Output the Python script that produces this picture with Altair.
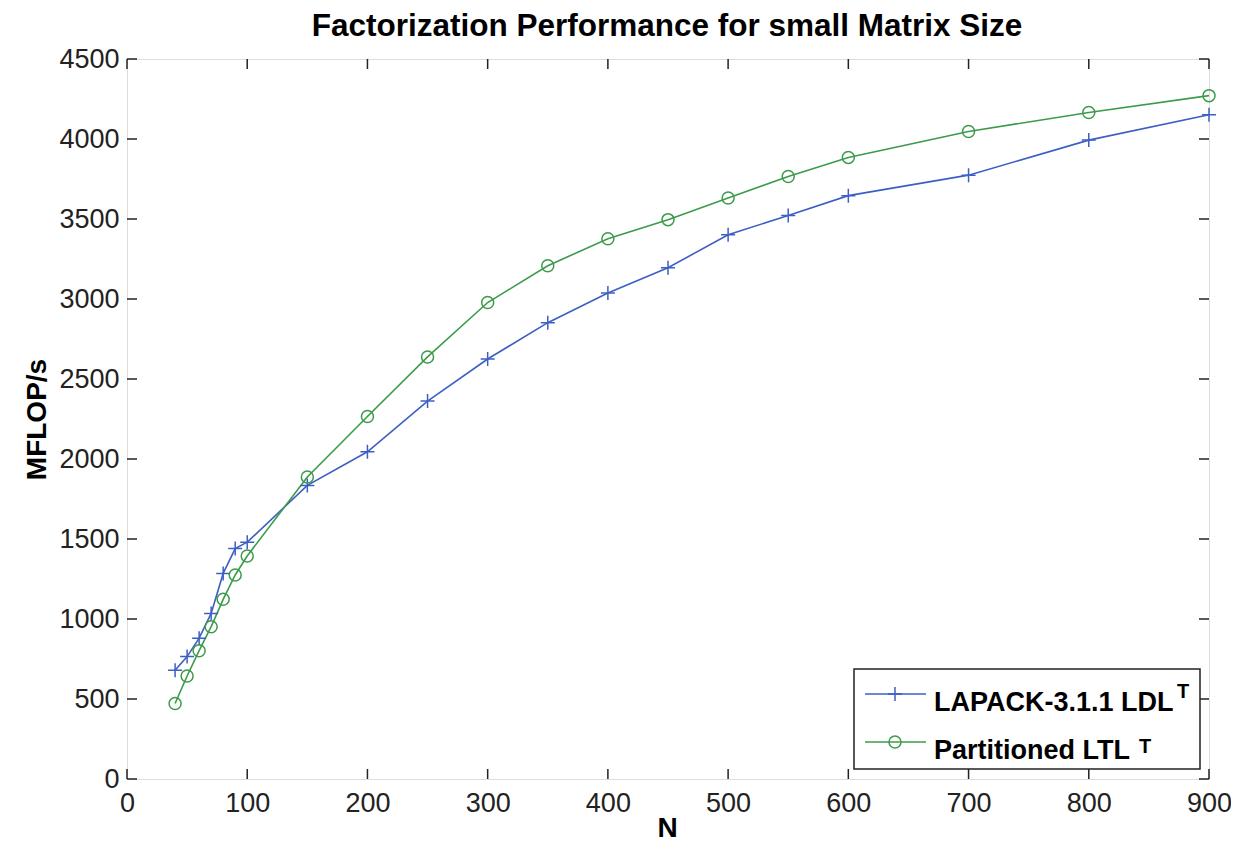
import altair as alt
import pandas as pd

# ---- data ----
N = [40, 50, 60, 70, 80, 90, 100, 150, 200, 250, 300, 350, 400, 450, 500, 550, 600, 700, 800, 900]
lapack = [680, 765, 880, 1035, 1285, 1440, 1480, 1835, 2045, 2362, 2625, 2852, 3038, 3195, 3402, 3522, 3646, 3774, 3993, 4152]
partitioned = [472, 644, 802, 952, 1123, 1275, 1394, 1888, 2266, 2638, 2978, 3208, 3377, 3496, 3631, 3766, 3885, 4047, 4166, 4271]

series_names = ["LAPACK-3.1.1 LDL", "Partitioned LTL"]
series_colors = ["#3d5fc4", "#3c9b4a"]
x_ticks = [0, 100, 200, 300, 400, 500, 600, 700, 800, 900]
y_ticks = [0, 500, 1000, 1500, 2000, 2500, 3000, 3500, 4000, 4500]
title_text = "Factorization Performance for small Matrix Size"

CROSS = "M-1,0H1M0,-1V1"
shapes = [CROSS, "circle"]
sizes = [196, 144]

W, H = 1082, 720
FONT = "Liberation Sans"
AX = "#222222"

df = pd.DataFrame({
    "N": N * 2,
    "MFLOPs": lapack + partitioned,
    "series": [series_names[0]] * len(N) + [series_names[1]] * len(N),
})

xscale = alt.Scale(domain=[0, 900], nice=False, zero=False)
yscale = alt.Scale(domain=[0, 4500], nice=False, zero=False)
cscale = alt.Scale(domain=series_names, range=series_colors)

xaxis = alt.Axis(values=x_ticks, format="d", grid=False, ticks=False, tickSize=0, domain=False,
                 labelFontSize=27, labelFont=FONT, labelColor=AX, labelPadding=32,
                 labelBaseline="alphabetic", labelFlush=False,
                 title="N", titleFont=FONT, titleFontSize=28, titleFontWeight="bold",
                 titleColor="#000", titleX=540, titleY=57, titleBaseline="alphabetic",
                 titleAlign="center")
yaxis = alt.Axis(values=y_ticks, format="d", grid=False, ticks=False, tickSize=0, domain=False,
                 labelFontSize=27, labelFont=FONT, labelColor=AX, labelPadding=8,
                 labelBaseline="middle", labelFlush=False,
                 title="MFLOP/s", titleFont=FONT, titleFontSize=28, titleFontWeight="bold",
                 titleColor="#000", titleX=-82, titleY=360, titleAngle=270,
                 titleBaseline="alphabetic", titleAlign="center")

lines = alt.Chart(df).mark_line(strokeWidth=1.6).encode(
    x=alt.X("N:Q", scale=xscale, axis=xaxis),
    y=alt.Y("MFLOPs:Q", scale=yscale, axis=yaxis),
    color=alt.Color("series:N", scale=cscale, legend=None),
    detail="series:N",
)

points = alt.Chart(df).mark_point(filled=False, strokeWidth=1.5, opacity=1).encode(
    x=alt.X("N:Q", scale=xscale),
    y=alt.Y("MFLOPs:Q", scale=yscale),
    color=alt.Color("series:N", scale=cscale, legend=None),
    shape=alt.Shape("series:N", scale=alt.Scale(domain=series_names, range=shapes), legend=None),
    size=alt.Size("series:N", scale=alt.Scale(domain=series_names, range=sizes), legend=None),
)

# inward ticks on all four sides (MATLAB style box)
xt = pd.DataFrame({"v": x_ticks})
yt = pd.DataFrame({"v": y_ticks})
tick_style = dict(color=AX, strokeWidth=1.5)
xt_bottom = alt.Chart(xt).mark_rule(**tick_style).encode(
    x=alt.X("v:Q", scale=xscale), y=alt.value(H), y2=alt.value(H - 10))
xt_top = alt.Chart(xt).mark_rule(**tick_style).encode(
    x=alt.X("v:Q", scale=xscale), y=alt.value(0), y2=alt.value(10))
yt_left = alt.Chart(yt).mark_rule(**tick_style).encode(
    y=alt.Y("v:Q", scale=yscale), x=alt.value(0), x2=alt.value(10))
yt_right = alt.Chart(yt).mark_rule(**tick_style).encode(
    y=alt.Y("v:Q", scale=yscale), x=alt.value(W), x2=alt.value(W - 10))

# title drawn as text
title = alt.Chart(pd.DataFrame({"t": [title_text]})).mark_text(
    align="center", baseline="alphabetic", font=FONT, fontSize=31.5, fontWeight="bold", color="#000"
).encode(x=alt.value(540), y=alt.value(-23), text="t:N")

# legend box
one = pd.DataFrame({"a": [0]})
legend_box = alt.Chart(one).mark_rect(fill="white", stroke=AX, strokeWidth=1.5).encode(
    x=alt.value(727), x2=alt.value(1073), y=alt.value(610), y2=alt.value(710))

legend_layers = [legend_box]
leg_line_y = [635, 683]
leg_text_y = [652, 700]
sup_x = [1050, 1012]
sup_y = [639, 694]
for i, name in enumerate(series_names):
    d = pd.DataFrame({"label": [name], "sup": ["T"]})
    legend_layers.append(alt.Chart(d).mark_rule(color=series_colors[i], strokeWidth=1.6).encode(
        x=alt.value(738), x2=alt.value(799), y=alt.value(leg_line_y[i])))
    legend_layers.append(alt.Chart(d).mark_point(filled=False, strokeWidth=1.5, opacity=1).encode(
        x=alt.value(768), y=alt.value(leg_line_y[i]), shape=alt.value(shapes[i]),
        size=alt.value(sizes[i]), color=alt.value(series_colors[i])))
    legend_layers.append(alt.Chart(d).mark_text(align="left", baseline="alphabetic", font=FONT,
                                                fontSize=27, fontWeight="bold", color="#000").encode(
        x=alt.value(807), y=alt.value(leg_text_y[i]), text="label:N"))
    legend_layers.append(alt.Chart(d).mark_text(align="left", baseline="alphabetic", font=FONT,
                                                fontSize=20, fontWeight="bold", color="#000").encode(
        x=alt.value(sup_x[i]), y=alt.value(sup_y[i]), text="sup:N"))

chart = alt.layer(lines, points, xt_bottom, xt_top, yt_left, yt_right, title, *legend_layers).properties(
    width=W, height=H,
    autosize=alt.AutoSizeParams(type="none"),
    padding={"left": 119, "top": 51, "right": 22, "bottom": 64},
).configure_view(stroke=AX, strokeWidth=1.5).configure(background="white")

chart.save("out.html", embed_options={"renderer": "svg", "actions": False})
